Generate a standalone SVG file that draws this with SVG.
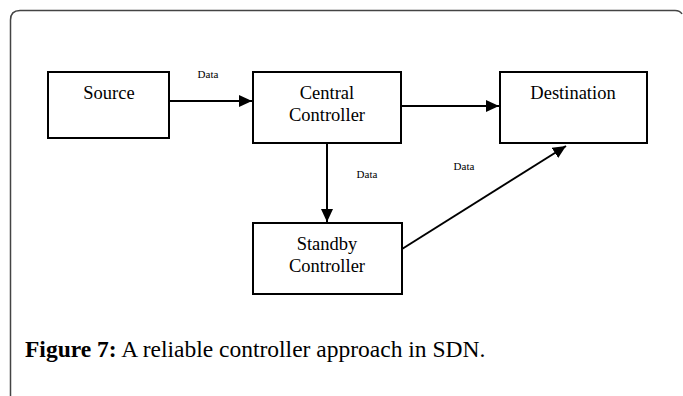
<svg xmlns="http://www.w3.org/2000/svg" width="683" height="396" viewBox="0 0 683 396">
<style>
.box{fill:#fff;stroke:#000;stroke-width:2}
text{font-family:"Liberation Serif","Times New Roman","DejaVu Serif",serif}
.lbl{font-size:18.5px;fill:#000;text-anchor:middle}
.data{font-size:11px;fill:#000;text-anchor:middle}
.con{stroke:#000;stroke-width:2;fill:none}
.cap{font-size:23.5px;fill:#000}
</style>
<defs>
<marker id="ah" markerWidth="14" markerHeight="14" refX="13" refY="6" orient="auto" markerUnits="userSpaceOnUse">
<path d="M0,0 L13,6 L0,12 Z" fill="#000"/>
</marker>
</defs>
<rect width="683" height="396" fill="#fff"/>
<path d="M10.5,396 V20 Q10.5,10.5 20,10.5 H675 Q680,10.5 682,14" fill="none" stroke="#444" stroke-width="1.5"/>
<g id="source"><rect class="box" x="48" y="72" width="121" height="66"/><text class="lbl" x="109" y="99">Source</text></g>
<g id="central"><rect class="box" x="253" y="72" width="148" height="71"/><text class="lbl" x="327" y="99">Central</text><text class="lbl" x="327" y="121">Controller</text></g>
<g id="destination"><rect class="box" x="500" y="72" width="147" height="71"/><text class="lbl" x="573" y="99">Destination</text></g>
<g id="standby"><rect class="box" x="253" y="223" width="149" height="71"/><text class="lbl" x="327" y="250">Standby</text><text class="lbl" x="327" y="272">Controller</text></g>
<g id="connectors">
<line class="con" x1="169" y1="101" x2="252" y2="101" marker-end="url(#ah)"/>
<line class="con" x1="401" y1="106" x2="499" y2="106" marker-end="url(#ah)"/>
<line class="con" x1="327" y1="143" x2="327" y2="222" marker-end="url(#ah)"/>
<line class="con" x1="402" y1="249" x2="566" y2="146" marker-end="url(#ah)"/>
<text class="data" x="208" y="78">Data</text>
<text class="data" x="367" y="178">Data</text>
<text class="data" x="464" y="170">Data</text>
</g>
<text class="cap" x="25" y="357"><tspan font-weight="bold">Figure 7:</tspan> A reliable controller approach in SDN.</text>
</svg>
